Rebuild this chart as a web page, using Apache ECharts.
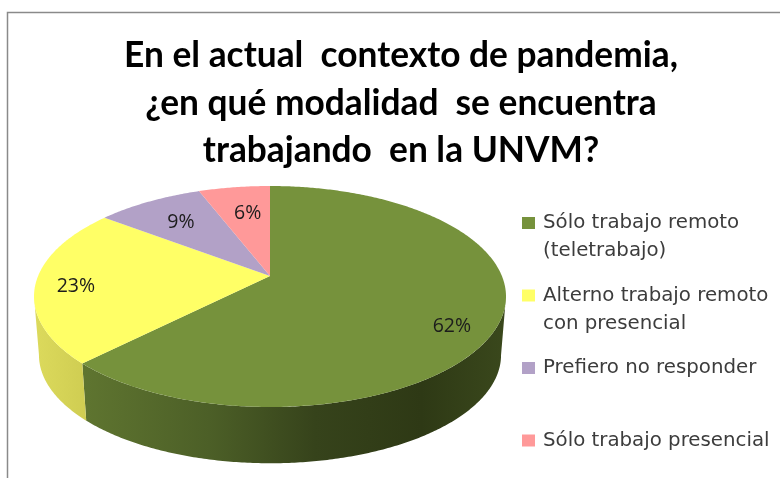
<!DOCTYPE html>
<html>
<head>
<meta charset="utf-8">
<style>html,body{margin:0;padding:0;background:#fff}#c{width:780px;height:478px}</style>
<script src="https://cdn.jsdelivr.net/npm/echarts@6/dist/echarts.min.js"></script>
</head>
<body>
<div id="c"></div>
<script>
const chartTitle = 'En el actual  contexto de pandemia,\n¿en qué modalidad  se encuentra\ntrabajando  en la UNVM?';
const categories = ['Sólo trabajo remoto\n(teletrabajo)', 'Alterno trabajo remoto\ncon presencial', 'Prefiero no responder', 'Sólo trabajo presencial'];
const values = [62.4, 23.0, 8.75, 5.85];
const colors = ['#76923c', '#ffff66', '#b2a1c7', '#ff9999'];
const sideStops = [
  [[0, '#5f7530'], [0.3, '#4c5f27'], [0.55, '#36431b'], [0.8, '#2e3915'], [1, '#3a481c']],
  [[0, '#dcda5c'], [1, '#cfcd52']],
  [[0, '#9487a6'], [1, '#9487a6']],
  [[0, '#d47f7f'], [1, '#d47f7f']]
];
// label placement: fraction of radius along the slice mid-angle, plus a small nudge
const labelPlace = [{f: 0.8, dx: 0, dy: 16}, {f: 0.83, dx: 0, dy: 4}, {f: 0.7, dx: -1, dy: 1}, {f: 0.7, dx: 4, dy: 3}];

// projection of the tilted disc
const cx = 270, cy = 276, a = 231.9, b = 106.7, p = -0.1855;
const depthY = 59, depthScale = 0.979;
const TWO_PI = Math.PI * 2;
const total = values.reduce((s, v) => s + v, 0);

function proj(theta, f, bottom) {
  const u = Math.sin(theta) * f, v = -Math.cos(theta) * f;
  const w = 1 + p * v;
  const s = bottom ? depthScale : 1;
  return [cx + s * a * u / w, cy + (bottom ? depthY : 0) + s * b * v / w];
}
function arc(t0, t1, bottom) {
  const n = Math.max(2, Math.ceil(Math.abs(t1 - t0) / 0.01));
  const pts = [];
  for (let i = 0; i <= n; i++) pts.push(proj(t0 + (t1 - t0) * i / n, 1, bottom));
  return pts;
}
const thetaRight = Math.acos(p);
const thetaLeft = TWO_PI - thetaRight;

function makeRender(index) {
  const before = values.slice(0, index).reduce((s, v) => s + v, 0);
  return function (params, api) {
    const val = api.value(0);
    const t0 = before / total * TWO_PI;
    const t1 = (before + val) / total * TWO_PI;
    const children = [];
    const s0 = Math.max(t0, thetaRight), s1 = Math.min(t1, thetaLeft);
    if (s1 > s0) {
      const pts = arc(s0, s1, false).concat(arc(s1, s0, true));
      children.push({
        type: 'polygon', z2: 1, shape: {points: pts},
        style: {fill: {type: 'linear', x: 0, y: 0, x2: 1, y2: 0,
          colorStops: sideStops[index].map(c => ({offset: c[0], color: c[1]}))}}
      });
    }
    children.push({
      type: 'polygon', z2: 2, shape: {points: [[cx, cy]].concat(arc(t0, t1, false))},
      style: {fill: colors[index]}
    });
    const mid = (t0 + t1) / 2, lp = labelPlace[index];
    const pos = proj(mid, lp.f, false);
    children.push({
      type: 'text', z2: 3, x: pos[0] + lp.dx, y: pos[1] + lp.dy,
      style: {text: Math.round(val / total * 100) + '%', fill: '#1c1c1c',
        font: '19.5px "Open Sans", sans-serif', align: 'center', verticalAlign: 'middle'}
    });
    return {type: 'group', children};
  };
}

const chart = echarts.init(document.getElementById('c'), null, {renderer: 'canvas'});
chart.setOption({
  animation: false,
  backgroundColor: '#fff',
  title: {
    text: chartTitle, left: 396, top: 27, textAlign: 'center',
    textStyle: {fontFamily: 'Lato', fontWeight: 'bold', fontSize: 35.3, lineHeight: 47.5, color: '#000'}
  },
  legend: {
    orient: 'vertical', left: 522, top: 181, height: 340, itemWidth: 13, itemHeight: 12, itemGap: -11.5,
    icon: 'rect', padding: 0,
    data: categories,
    formatter: n => '\n' + n + (n.indexOf('\n') < 0 ? '\n ' : ''),
    textStyle: {fontFamily: 'DejaVu Sans', fontSize: 19.8, lineHeight: 28, color: '#3c3c3c', padding: [0, 0, 0, 3]}
  },
  graphic: [{
    type: 'rect', shape: {x: 7.5, y: 12.5, width: 800, height: 500},
    style: {fill: 'none', stroke: '#8a8a8a', lineWidth: 1.5}, silent: true
  }],
  series: categories.map((name, i) => ({
    type: 'custom', name, coordinateSystem: 'none',
    itemStyle: {color: colors[i]},
    renderItem: makeRender(i),
    data: [[values[i]]]
  }))
});
</script>
</body>
</html>
